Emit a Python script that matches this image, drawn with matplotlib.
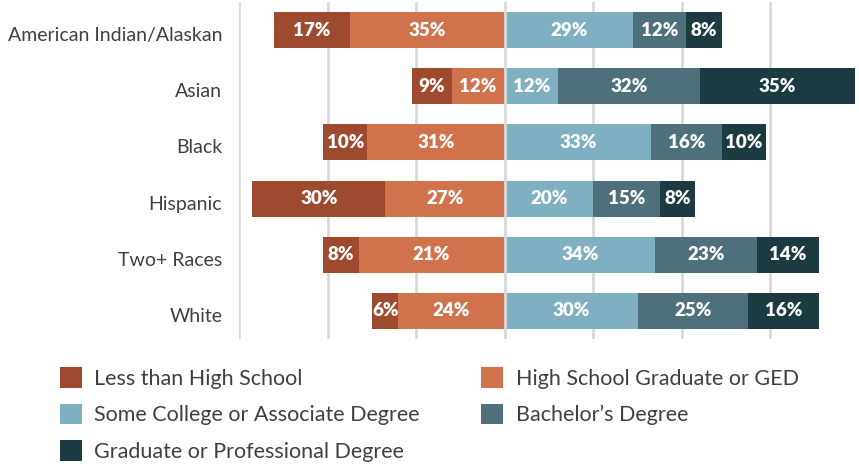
import matplotlib
matplotlib.use("Agg")
import matplotlib.pyplot as plt
import matplotlib.transforms as mtransforms
from matplotlib.patches import Patch
import numpy as np

plt.rcParams["font.family"] = ["Lato", "DejaVu Sans"]

groups = ["American Indian/Alaskan", "Asian", "Black", "Hispanic", "Two+ Races", "White"]
less_hs = [17, 9, 10, 30, 8, 6]
hs_grad = [35, 12, 31, 27, 33, 24]          # bar lengths as drawn
hs_grad_labels = [35, 12, 31, 27, 21, 24]   # printed labels (Two+ Races shows 21%)
some_college = [29, 12, 33, 20, 34, 30]
bachelors = [12, 32, 16, 15, 23, 25]
graduate = [8, 35, 10, 8, 14, 16]

series_names = [
    "Less than High School",
    "High School Graduate or GED",
    "Some College or Associate Degree",
    "Bachelor\u2019s Degree",
    "Graduate or Professional Degree",
]
colors = ["#9E4A2F", "#D0734C", "#7FB0C2", "#4E707A", "#1B3B40"]

fig = plt.figure(figsize=(8.59, 4.66), dpi=100)
ax = fig.add_axes([239 / 859, 1 - 339 / 466, 620 / 859, 337 / 466])

y = np.arange(len(groups))
h = 0.64

lh = np.array(less_hs)
hg = np.array(hs_grad)
sc = np.array(some_college)
ba = np.array(bachelors)
gr = np.array(graduate)

segments = [
    (lh, -(lh + hg), colors[0], less_hs),
    (hg, -hg, colors[1], hs_grad_labels),
    (sc, np.zeros(len(groups)), colors[2], some_college),
    (ba, sc, colors[3], bachelors),
    (gr, sc + ba, colors[4], graduate),
]

for vals, left, c, labels in segments:
    bars = ax.barh(y, vals, left=left, height=h, color=c, zorder=2)
    for b, v in zip(bars, labels):
        ax.text(b.get_x() + b.get_width() / 2, b.get_y() + b.get_height() / 2,
                f"{v}%", ha="center", va="center", color="white",
                fontsize=13.5, fontweight="heavy", zorder=4)

ax.axvline(0, color="#D9D9D9", lw=2, zorder=3)
ax.set_xlim(-60, 80)
ax.set_ylim(5.5, -0.5)
ax.set_xticks([-60, -40, -20, 20, 40, 60])
ax.xaxis.grid(True, color="#D9D9D9", lw=2, zorder=0)
ax.set_axisbelow(True)
ax.tick_params(axis="x", length=0, labelbottom=False)
ax.tick_params(axis="y", length=0, pad=12)
ax.set_yticks(y)
ax.set_yticklabels(groups, fontsize=14, color="#404040")
shift = mtransforms.ScaledTranslation(0, -4 / 100, fig.dpi_scale_trans)
for lab in ax.get_yticklabels():
    lab.set_transform(lab.get_transform() + shift)
for s in ax.spines.values():
    s.set_visible(False)

handles = [Patch(facecolor=c, edgecolor="none") for c in colors]
order = [0, 2, 4, 1, 3]
fig.legend([handles[i] for i in order], [series_names[i] for i in order],
           loc="upper left", bbox_to_anchor=(60 / 859, 1 - 367 / 466), ncol=2,
           frameon=False, fontsize=15.5, labelcolor="#404040",
           borderpad=0, borderaxespad=0,
           handlelength=1.0, handleheight=1.1, handletextpad=0.6,
           labelspacing=0.7, columnspacing=2.85)

fig.savefig("out.png", dpi=100)
